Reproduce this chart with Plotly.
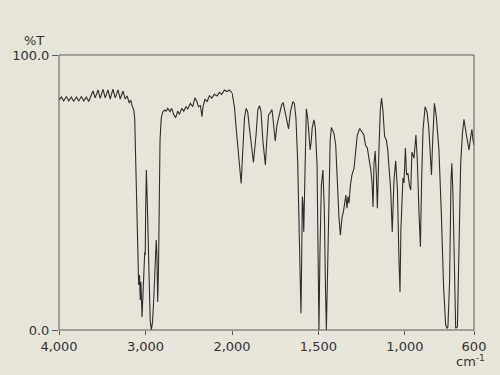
import plotly.graph_objects as go

# High-wavenumber section (4000-2000 cm-1)
hi_wn = [4000, 3972, 3946, 3914, 3888, 3857, 3830, 3799, 3772, 3741, 3714, 3683, 3657, 3634,
         3607, 3582, 3549, 3524, 3491, 3466, 3434, 3408, 3376, 3350, 3318, 3292, 3260, 3235,
         3212, 3188, 3171, 3154, 3136, 3125, 3113, 3102, 3090, 3079, 3069, 3061, 3053, 3040,
         3027, 3015, 3009, 3003, 2998, 2990, 2980, 2969, 2957, 2946, 2932, 2919, 2905, 2888,
         2876, 2868, 2859, 2850, 2842, 2832, 2818, 2801, 2778, 2761, 2743, 2717, 2697, 2674,
         2651, 2628, 2608, 2581, 2558, 2532, 2512, 2481, 2454, 2428, 2405, 2388, 2365, 2347,
         2335, 2312, 2289, 2261, 2235, 2203, 2173, 2146, 2119, 2088, 2058, 2030, 2000]
hi_t = [83.6, 84.7, 83.3, 84.9, 83.3, 84.7, 83.1, 84.7, 83.3, 84.9, 83.3, 84.7, 83.1, 84.7,
        86.9, 84.4, 87.3, 84.2, 87.5, 84.4, 87.3, 84.0, 87.6, 84.4, 87.3, 84.0, 86.9, 84.0,
        85.1, 82.5, 83.6, 81.5, 80.0, 77.1, 61.8, 42.5, 23.6, 16.4, 20.0, 10.9, 17.5, 4.7,
        14.5, 23.6, 28.4, 27.3, 43.6, 58.2, 47.3, 29.1, 14.5, 3.6, 0.0, 2.9, 10.9, 23.6,
        32.7, 27.3, 10.2, 21.8, 47.3, 69.1, 77.1, 79.3, 80.0, 79.6, 80.6, 79.4, 80.6, 78.4,
        77.2, 79.6, 78.4, 80.6, 79.6, 81.2, 80.4, 82.4, 81.2, 84.5, 83.0, 81.2, 81.6, 77.6,
        81.2, 84.0, 83.0, 85.2, 84.3, 85.7, 85.1, 86.4, 85.7, 87.3, 86.7, 87.3, 86.2]

# Low-wavenumber section (2000-600 cm-1)
lo_wn = [2000, 1992, 1986, 1975, 1967, 1958, 1947, 1938, 1928, 1918, 1909, 1899, 1886, 1876,
         1861, 1851, 1841, 1832, 1821, 1807, 1798, 1789, 1780, 1774, 1769, 1763, 1750, 1740,
         1726, 1713, 1704, 1688, 1673, 1662, 1648, 1639, 1630, 1620, 1614, 1608, 1604, 1601,
         1597, 1593, 1589, 1585, 1581, 1577, 1570, 1562, 1553, 1548, 1542, 1536, 1526, 1518,
         1508, 1503, 1497, 1491, 1483, 1474, 1466, 1459, 1454, 1448, 1439, 1432, 1425, 1410,
         1400, 1393, 1381, 1373, 1364, 1354, 1348, 1341, 1335, 1329, 1323, 1315, 1306, 1294,
         1285, 1275, 1261, 1248, 1237, 1228, 1217, 1208, 1198, 1190, 1184, 1179, 1172, 1165,
         1159, 1150, 1142, 1135, 1127, 1117, 1107, 1099, 1092, 1082, 1073, 1063, 1053, 1043,
         1034, 1028, 1023, 1014, 1011, 1005, 997, 990, 982, 974, 966, 959, 953, 947, 936,
         928, 918, 910, 903, 895, 883, 872, 862, 852, 846, 839, 829, 818, 803, 789, 776, 764,
         756, 751, 741, 733, 728, 722, 714, 706, 696, 687, 677, 667, 658, 644, 629, 619, 612,
         606, 600]
lo_t = [86.2, 83.6, 81.2, 72.7, 67.3, 61.8, 53.3, 64.8, 77.0, 80.6, 79.3, 73.3, 64.8, 60.9,
        70.9, 80.0, 81.6, 79.4, 68.5, 60.0, 69.7, 78.2, 78.8, 79.6, 80.2, 77.0, 68.7, 74.5,
        78.2, 81.8, 82.7, 78.2, 73.1, 79.4, 83.0, 82.4, 77.0, 61.2, 40.7, 22.5, 10.3, 6.1,
        25.5, 48.5, 45.5, 35.7, 47.3, 65.5, 80.4, 77.1, 69.1, 65.5, 68.4, 73.5, 76.4, 73.5,
        60.0, 29.1, 0.0, 29.1, 52.7, 58.2, 43.6, 14.5, 0.0, 18.2, 54.5, 69.1, 73.6, 71.5,
        67.3, 56.4, 40.7, 34.5, 40.7, 43.6, 47.3, 49.1, 44.3, 48.5, 46.1, 52.7, 56.4, 58.8,
        64.7, 70.9, 73.3, 72.1, 70.9, 67.3, 66.2, 62.5, 58.8, 53.8, 44.7, 60.0, 65.1, 56.4,
        44.3, 65.5, 80.0, 84.3, 80.0, 70.3, 69.1, 65.5, 60.7, 50.9, 35.6, 54.5, 61.5, 50.9,
        25.5, 13.8, 36.4, 52.7, 55.3, 53.5, 66.2, 56.4, 57.0, 52.7, 50.9, 64.7, 63.6, 62.5, 70.9,
        61.8, 42.5, 30.3, 54.5, 72.7, 81.2, 79.3, 73.8, 62.9, 56.4, 69.1, 82.4, 77.6, 65.5, 42.5,
        15.6, 1.8, 0.7, 1.1, 18.2, 54.5, 60.6, 49.8, 18.2, 0.6, 1.1, 36.4, 60.6, 71.5, 76.6,
        70.9, 65.5, 70.3, 73.0, 69.1, 67.3]

hi_ticks = [4000, 3000]
hi_labels = ["4,000", "3,000"]
lo_ticks = [2000, 1500, 1000, 600]
lo_labels = ["2,000", "1,500", "1,000", "600"]
y_ticks = [0, 100]
y_labels = ["0.0", "100.0"]

BG = "#e7e5da"
INK = "#2e2e2e"
AX = "#5a5a5a"
FONT = dict(family="DejaVu Sans", size=13, color="#333333")

split = 173.0 / 415.0

fig = go.Figure()
fig.add_trace(go.Scatter(x=hi_wn, y=hi_t, mode="lines", xaxis="x", yaxis="y",
                         line=dict(color=INK, width=1.1), showlegend=False))
fig.add_trace(go.Scatter(x=lo_wn, y=lo_t, mode="lines", xaxis="x2", yaxis="y",
                         line=dict(color=INK, width=1.1), showlegend=False))

fig.update_layout(
    width=500, height=375,
    margin=dict(l=59, r=26, t=55, b=45),
    paper_bgcolor=BG, plot_bgcolor=BG,
    font=FONT,
    xaxis=dict(domain=[0, split], range=[4000, 2000], anchor="y",
               tickvals=hi_ticks, ticktext=hi_labels, ticks="outside", ticklen=4,
               tickcolor=AX, showgrid=False, zeroline=False, showline=False),
    xaxis2=dict(domain=[split, 1], range=[2000, 600], anchor="y",
                tickvals=lo_ticks, ticktext=lo_labels, ticks="outside", ticklen=4,
                tickcolor=AX, showgrid=False, zeroline=False, showline=False),
    yaxis=dict(range=[0, 100], anchor="x", tickvals=y_ticks, ticktext=y_labels,
               ticks="outside", ticklen=6, tickcolor=AX, showgrid=False,
               zeroline=False, showline=False),
    shapes=[dict(type="rect", xref="paper", yref="paper", x0=0, x1=1, y0=0, y1=1,
                 line=dict(color=AX, width=1), layer="above")],
    annotations=[
        dict(text="%T", xref="paper", yref="paper", x=0, y=1, xanchor="right",
             yanchor="bottom", xshift=-13, yshift=5, showarrow=False, font=FONT),
        dict(text="cm<sup>-1</sup>", xref="paper", yref="paper", x=1, y=0,
             xanchor="center", yanchor="top", xshift=-4, yshift=-21, showarrow=False,
             font=FONT),
    ],
)

fig.write_html("out.html")
